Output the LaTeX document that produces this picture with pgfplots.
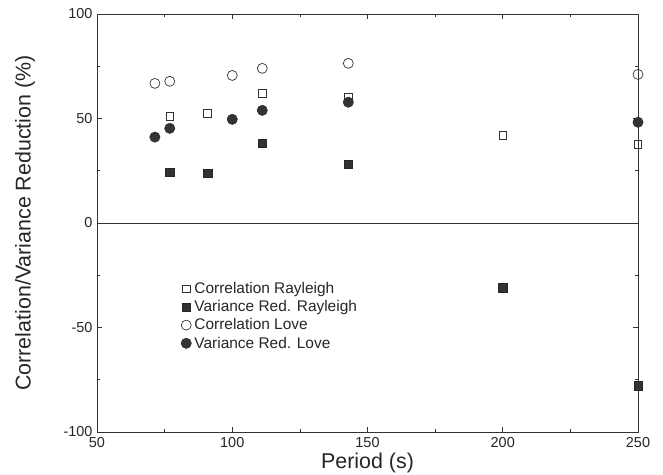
\documentclass[border=0pt]{standalone}
\usepackage{pgfplots}
\pgfplotsset{compat=1.18}
\usepackage{fontspec}
\setmainfont{Liberation Sans}
\begin{document}
\begin{tikzpicture}
\path[use as bounding box] (-97bp,-43bp) rectangle (566bp,432bp);
\begin{axis}[
  at={(0,0)}, anchor=south west,
  scale only axis, width=541bp, height=418bp,
  xmin=50, xmax=250, ymin=-100, ymax=100,
  xtick={50,100,150,200,250}, ytick={-100,-50,0,50,100},
  minor x tick num=1, minor y tick num=1,
  tick align=inside,
  major tick length=5bp, minor tick length=3bp,
  axis line style={black!80, line width=0.8pt},
  every tick/.style={black!80, line width=0.6pt},
  /pgf/number format/assume math mode=true,
  tick label style={font=\fontsize{14.5}{16}\selectfont, black!85},
  xticklabel style={yshift=-1.5bp},
  yticklabel style={xshift=-1bp},
  xlabel={Period (s)},
  ylabel={Correlation/Variance Reduction (\%)},
  xlabel style={font=\fontsize{21.5}{24}\selectfont, black!85, at={(axis description cs:0.5,-0.0865)}, anchor=base},
  ylabel style={font=\fontsize{21.5}{24}\selectfont, black!85, at={(axis description cs:-0.133,0.5)}, anchor=center, rotate=0},
  clip=false,
  legend style={at={(axis description cs:0.155,0.363)}, anchor=north west, draw=none, fill=none,
    font=\fontsize{15.5}{17}\selectfont, row sep=1.5bp, inner sep=0pt, text=black!85,
    nodes={inner xsep=3bp}},
  legend cell align=left,
  legend image code/.code={\draw[#1] plot coordinates {(0.25cm,0cm)};},
]
\addplot[black!80, line width=0.8pt, forget plot] coordinates {(50,0) (250,0)};
\addplot[only marks, mark=square, mark size=3.8bp, mark options={black!80, line width=0.7pt, fill=white}]
  coordinates {(76.9,51.1) (90.9,52.5) (111.1,62.1) (142.9,60.1) (200,42) (250,37.7)};
\addlegendentry{Correlation Rayleigh}
\addplot[only marks, mark=square*, mark size=4.2bp, mark options={black!85, fill=black!80}]
  coordinates {(76.9,24.3) (90.9,23.9) (111.1,38.2) (142.9,28.2) (200,-31) (250,-77.8)};
\addlegendentry{Variance Red. Rayleigh}
\addplot[only marks, mark=o, mark size=5bp, mark options={black!80, line width=0.7pt, fill=white}]
  coordinates {(71.4,66.8) (76.9,67.8) (100,70.6) (111.1,74) (142.9,76.4) (250,71.1)};
\addlegendentry{Correlation Love}
\addplot[only marks, mark=*, mark size=5.2bp, mark options={black!85, fill=black!80}]
  coordinates {(71.4,41.1) (76.9,45.3) (100,49.6) (111.1,53.9) (142.9,57.8) (250,48.2)};
\addlegendentry{Variance Red. Love}
\end{axis}
\end{tikzpicture}
\end{document}
